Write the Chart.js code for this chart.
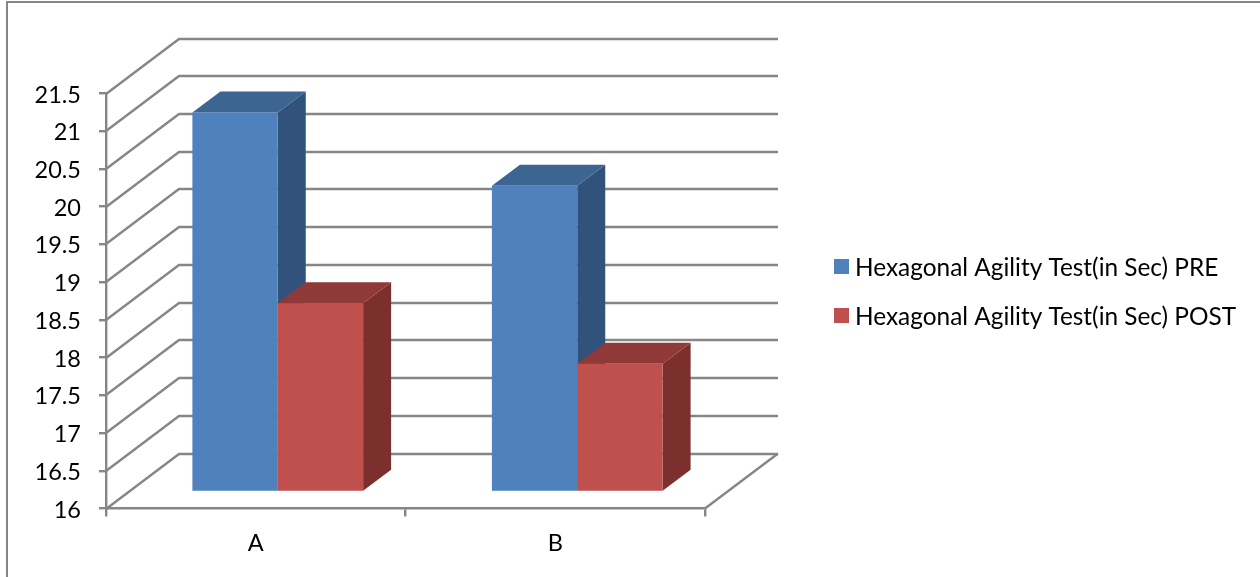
<!DOCTYPE html>
<html>
<head>
<meta charset="utf-8">
<title>Hexagonal Agility Test</title>
<script src="https://cdn.jsdelivr.net/npm/chart.js@4/dist/chart.umd.min.js"></script>
<style>
  html, body { margin: 0; padding: 0; background: #fff; }
  canvas { display: block; }
</style>
</head>
<body>
<canvas id="agilityChart" width="1260" height="577"></canvas>
<script>
var categories = ['A', 'B'];
var preLabel = 'Hexagonal Agility Test(in Sec) PRE';
var postLabel = 'Hexagonal Agility Test(in Sec) POST';
var preValues = [21.03, 20.06];
var postValues = [18.5, 17.7];
var axisMin = 16;
var axisMax = 21.5;
var axisStep = 0.5;

var fontName = 'Lato';
var lineColor = '#868686';
var lineWidth = 2.4;
var legendFontSize = 24.4;
var tickFontSize = 23.5;

// depth of the fake 3d box, in pixels
var wallDepth = { x: 73, y: -55 };
var barOffset = { x: 22, y: -16.5 };
var barDepth = { x: 28, y: -21 };

var preColors = { front: '#4f81bd', top: '#3d6592', side: '#31527b' };
var postColors = { front: '#c0504d', top: '#8f3a38', side: '#7b302e' };

function polygon(ctx, color, points) {
  ctx.fillStyle = color;
  ctx.beginPath();
  points.forEach(function (p, i) {
    if (i === 0) ctx.moveTo(p[0], p[1]);
    else ctx.lineTo(p[0], p[1]);
  });
  ctx.closePath();
  ctx.fill();
}

var box3d = {
  id: 'box3d',
  beforeDraw: function (chart) {
    // outer frame, only left and top show
    var ctx = chart.ctx;
    ctx.save();
    ctx.strokeStyle = lineColor;
    ctx.lineWidth = 2;
    ctx.beginPath();
    ctx.moveTo(7, 577);
    ctx.lineTo(7, 2);
    ctx.lineTo(1260, 2);
    ctx.stroke();
    ctx.restore();
  },
  beforeDatasetsDraw: function (chart) {
    var ctx = chart.ctx;
    var area = chart.chartArea;
    var yScale = chart.scales.y;

    // gridlines run back along the side wall and then across the back wall
    ctx.save();
    ctx.strokeStyle = lineColor;
    ctx.lineWidth = lineWidth;
    yScale.ticks.forEach(function (tick) {
      var y = Math.round(yScale.getPixelForValue(tick.value));
      ctx.beginPath();
      ctx.moveTo(area.left, y);
      ctx.lineTo(area.left + wallDepth.x, y + wallDepth.y);
      ctx.lineTo(area.right + wallDepth.x, y + wallDepth.y);
      ctx.stroke();
    });
    ctx.beginPath();
    ctx.moveTo(area.right, area.bottom);
    ctx.lineTo(area.right + wallDepth.x, area.bottom + wallDepth.y);
    ctx.stroke();

    // side and top faces first, the library paints the front faces over them
    chart.data.datasets.forEach(function (ds, i) {
      chart.getDatasetMeta(i).data.forEach(function (bar) {
        var l = bar.x - bar.width / 2 + barOffset.x;
        var r = bar.x + bar.width / 2 + barOffset.x;
        var t = bar.y + barOffset.y;
        var b = bar.base + barOffset.y;
        var dx = barDepth.x;
        var dy = barDepth.y;
        polygon(ctx, ds.faces.side, [[r, t], [r + dx, t + dy], [r + dx, b + dy], [r, b]]);
        polygon(ctx, ds.faces.top, [[l, t], [l + dx, t + dy], [r + dx, t + dy], [r, t]]);
      });
    });
    ctx.restore();

    ctx.save();
    ctx.translate(barOffset.x, barOffset.y);
  },
  afterDatasetsDraw: function (chart) {
    chart.ctx.restore();
  },
  afterDraw: function (chart) {
    // legend on the right
    var ctx = chart.ctx;
    ctx.save();
    ctx.font = legendFontSize + 'px ' + fontName;
    ctx.textBaseline = 'middle';
    chart.data.datasets.forEach(function (ds, i) {
      var y = 266.5 + i * 49;
      ctx.fillStyle = ds.backgroundColor;
      ctx.fillRect(834, y - 7.5, 15, 15);
      ctx.fillStyle = '#000';
      ctx.fillText(ds.label, 855, y + 1.5);
    });
    ctx.restore();
  }
};

var agilityChart = new Chart(document.getElementById('agilityChart'), {
  type: 'bar',
  data: {
    labels: categories,
    datasets: [
      { label: preLabel, data: preValues, backgroundColor: preColors.front, faces: preColors },
      { label: postLabel, data: postValues, backgroundColor: postColors.front, faces: postColors }
    ]
  },
  options: {
    responsive: false,
    animation: false,
    layout: { padding: { left: 0, top: 93.5, right: 555, bottom: 0 } },
    datasets: { bar: { categoryPercentage: 0.57, barPercentage: 1, base: axisMin } },
    plugins: {
      legend: { display: false },
      tooltip: { enabled: false }
    },
    scales: {
      x: {
        afterFit: function (scale) { scale.height = 68.5; },
        border: { color: lineColor, width: lineWidth },
        grid: { color: lineColor, lineWidth: lineWidth, drawOnChartArea: false, tickLength: 8 },
        ticks: { color: '#000', font: { family: fontName, size: tickFontSize }, padding: 13, maxRotation: 0 }
      },
      y: {
        min: axisMin,
        max: axisMax,
        afterFit: function (scale) { scale.width = 106; },
        border: { color: lineColor, width: lineWidth },
        grid: { color: lineColor, lineWidth: lineWidth, drawOnChartArea: false, tickLength: 7 },
        ticks: {
          stepSize: axisStep,
          autoSkip: false,
          color: '#000',
          font: { family: fontName, size: tickFontSize },
          padding: 18,
          labelOffset: 1.5,
          callback: function (value) { return String(value); }
        }
      }
    }
  },
  plugins: [box3d]
});
</script>
</body>
</html>
